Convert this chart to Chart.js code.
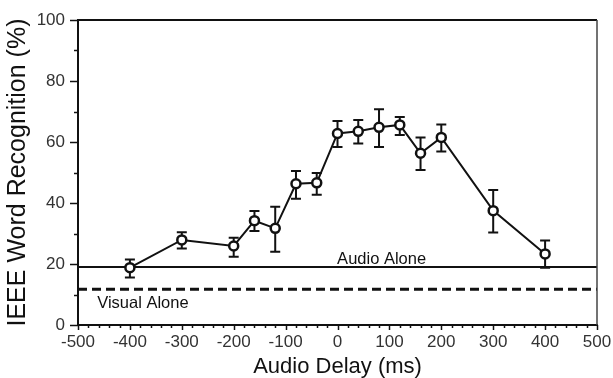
<!DOCTYPE html>
<html>
<head>
<meta charset="utf-8">
<script src="https://cdn.jsdelivr.net/npm/chart.js@4.4.1/dist/chart.umd.min.js"></script>
<style>
html,body{margin:0;padding:0;background:#fff;}
#wrap{width:613px;height:378px;}
</style>
</head>
<body>
<div id="wrap"><canvas id="c" width="613" height="378"></canvas></div>
<script>
const delays   = [-400, -300, -200, -160, -120, -80, -40, 0, 40, 80, 120, 160, 200, 300, 400];
const scores   = [18.8, 27.9, 25.9, 34.2, 31.7, 46.3, 46.6, 62.8, 63.5, 64.8, 65.6, 56.3, 61.5, 37.5, 23.3];
const errHigh  = [21.5, 30.4, 28.6, 37.4, 38.8, 50.5, 49.8, 66.9, 67.2, 70.7, 68.2, 61.5, 65.7, 44.3, 27.7];
const errLow   = [15.6, 25.1, 22.4, 30.8, 24.0, 41.4, 42.7, 58.4, 59.5, 58.4, 62.3, 50.8, 56.9, 30.3, 18.8];
const audioAlone = 19.0;
const visualAlone = 11.7;
const xRange = [-500, 500];
const yRange = [0, 100];
const xTickStep = 100, xMinorStep = 20;
const yTickStep = 20, yMinorStep = 10;
const refLabels = [
  {text: 'Audio Alone', x: 85, y: audioAlone, align: 'center', dy: -3},
  {text: 'Visual Alone', x: -463, y: visualAlone, align: 'left', dy: 19}
];

const FONT = '"Liberation Sans", Arial, sans-serif';

const extras = {
  id: 'extras',
  beforeDatasetsDraw(chart) {
    const ctx = chart.ctx, xs = chart.scales.x, ys = chart.scales.y;
    ctx.save();
    ctx.strokeStyle = '#111';
    ctx.lineWidth = 2;
    for (let i = 0; i < delays.length; i++) {
      const px = xs.getPixelForValue(delays[i]);
      const hi = ys.getPixelForValue(errHigh[i]);
      const lo = ys.getPixelForValue(errLow[i]);
      ctx.beginPath();
      ctx.moveTo(px, hi); ctx.lineTo(px, lo);
      ctx.moveTo(px - 5, hi); ctx.lineTo(px + 5, hi);
      ctx.moveTo(px - 5, lo); ctx.lineTo(px + 5, lo);
      ctx.stroke();
    }
    ctx.restore();
  },
  afterDraw(chart) {
    const ctx = chart.ctx, xs = chart.scales.x, ys = chart.scales.y, a = chart.chartArea;
    ctx.save();
    ctx.strokeStyle = '#111';
    ctx.lineWidth = 2;
    ctx.beginPath();
    ctx.moveTo(a.left, a.top); ctx.lineTo(a.right, a.top);
    ctx.stroke();
    ctx.strokeStyle = '#444';
    ctx.lineWidth = 1.5;
    ctx.beginPath();
    ctx.moveTo(a.right, a.top); ctx.lineTo(a.right, a.bottom);
    ctx.stroke();
    ctx.strokeStyle = '#111';
    ctx.lineWidth = 1.5;
    for (let v = yRange[0]; v <= yRange[1]; v += yMinorStep) {
      const py = Math.round(ys.getPixelForValue(v)) + 0.5;
      const len = (v % yTickStep === 0) ? 8 : 4;
      ctx.beginPath(); ctx.moveTo(a.left, py); ctx.lineTo(a.left - len, py); ctx.stroke();
    }
    for (let v = xRange[0]; v <= xRange[1]; v += xMinorStep) {
      const px = Math.round(xs.getPixelForValue(v)) + 0.5;
      const len = (v % xTickStep === 0) ? 5 : 3;
      ctx.beginPath(); ctx.moveTo(px, a.bottom); ctx.lineTo(px, a.bottom + len); ctx.stroke();
    }
    ctx.fillStyle = '#111';
    ctx.font = '16.5px ' + FONT;
    ctx.textBaseline = 'alphabetic';
    refLabels.forEach(l => {
      ctx.textAlign = l.align;
      ctx.fillText(l.text, xs.getPixelForValue(l.x), ys.getPixelForValue(l.y) + l.dy);
    });
    ctx.restore();
  }
};

new Chart(document.getElementById('c'), {
  type: 'scatter',
  data: {
    datasets: [
      {
        data: delays.map((d, i) => ({x: d, y: scores[i]})),
        showLine: true,
        borderColor: '#111',
        borderWidth: 2,
        pointRadius: 4.5,
        pointBorderWidth: 2.5,
        pointBackgroundColor: '#fff',
        pointBorderColor: '#111',
        order: 0
      },
      {
        data: [{x: xRange[0], y: audioAlone}, {x: xRange[1], y: audioAlone}],
        showLine: true,
        borderColor: '#111',
        borderWidth: 2,
        pointRadius: 0,
        order: 1
      },
      {
        data: [{x: xRange[0], y: visualAlone}, {x: xRange[1], y: visualAlone}],
        showLine: true,
        borderColor: '#111',
        borderWidth: 3,
        borderDash: [9, 5],
        pointRadius: 0,
        order: 2
      }
    ]
  },
  options: {
    responsive: false,
    animation: false,
    devicePixelRatio: 1,
    layout: {padding: {top: 20, right: 16, left: 0, bottom: 0}},
    plugins: {legend: {display: false}, tooltip: {enabled: false}},
    scales: {
      x: {
        type: 'linear',
        min: xRange[0], max: xRange[1],
        grid: {display: false, drawTicks: false},
        border: {display: true, color: '#111', width: 2},
        ticks: {stepSize: xTickStep, padding: 7, color: '#333', font: {family: FONT, size: 17}, maxRotation: 0, autoSkip: false},
        title: {display: true, text: 'Audio Delay (ms)', color: '#111', font: {family: FONT, size: 22, lineHeight: 1.0}, padding: 0},
        afterFit(s) { s.height = 53; s.paddingLeft = 0; s.paddingRight = 0; }
      },
      y: {
        type: 'linear',
        min: yRange[0], max: yRange[1],
        grid: {display: false, drawTicks: false},
        border: {display: true, color: '#111', width: 2},
        ticks: {stepSize: yTickStep, padding: 13, color: '#333', font: {family: FONT, size: 17}},
        title: {display: true, text: 'IEEE Word Recognition (%)', color: '#111', font: {family: FONT, size: 25, lineHeight: 1.2}, padding: {top: 3, bottom: 0}},
        afterFit(s) { s.width = 78; s.paddingTop = 0; s.paddingBottom = 0; }
      }
    }
  },
  plugins: [extras]
});
</script>
</body>
</html>
